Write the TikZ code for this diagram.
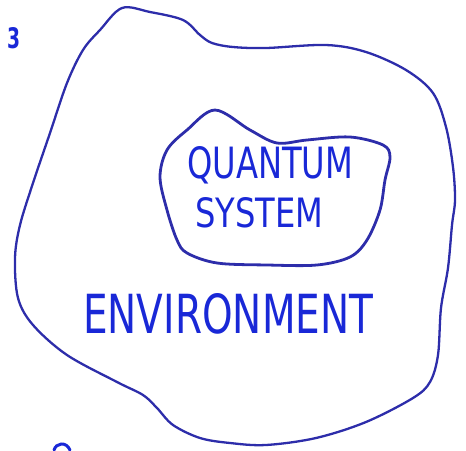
\documentclass[tikz,border=0pt]{standalone}
\usepackage{fontspec}
\usepackage{graphicx}
\setmainfont{DejaVu Sans}
\definecolor{inkline}{RGB}{45,45,170}
\definecolor{inktext}{RGB}{25,40,215}
\tikzset{
  blob/.style={draw=inkline, line width=2.3pt, line join=round, line cap=round},
  hand/.style={text=inktext, inner sep=0pt, anchor=north west},
}
\begin{document}
\begin{tikzpicture}[x=1pt,y=-1pt]
\useasboundingbox (0,0) rectangle (466,450);
% environment outline
\draw[blob] plot[smooth cycle, tension=0.55] coordinates {
 (122,8) (150,12) (183,20) (200,35) (212,43) (233,47) (266,48) (326,45)
 (366,52) (406,70) (433,93) (446,127) (453,167) (455,200) (452,225)
 (448,268) (441,308) (438,355) (430,382) (413,398) (366,422) (316,438)
 (266,445) (230,443) (200,438) (173,425) (157,408) (143,395) (117,382)
 (67,355) (33,325) (18,298) (15,258) (20,225) (33,183) (50,133) (67,83)
 (83,50) (100,30)};
% quantum system outline
\draw[blob, line width=2.8pt] plot[smooth cycle, tension=0.55] coordinates {
 (215,110) (250,130) (277,143) (307,140) (350,137) (383,145) (390,157)
 (385,180) (380,210) (367,240) (350,257) (317,265) (267,265) (217,263)
 (187,253) (177,240) (167,210) (160,177) (167,150) (187,130)};
% labels
\node[hand] (quantum) at (187,146) {\resizebox{166pt}{32pt}{QUANTUM}};
\node[hand] (system) at (195,197) {\resizebox{128pt}{30pt}{SYSTEM}};
\node[hand] (env) at (83,293) {\resizebox{290pt}{40pt}{ENVIRONMENT}};
\node[hand, font=\bfseries] (mark) at (7,27) {\resizebox{13pt}{21pt}{3}};
% cut-off stroke at bottom left
\draw[draw=inktext, line width=3pt, line cap=round] (54,450) .. controls (56,443) and (66,441) .. (70,450);
\end{tikzpicture}
\end{document}
